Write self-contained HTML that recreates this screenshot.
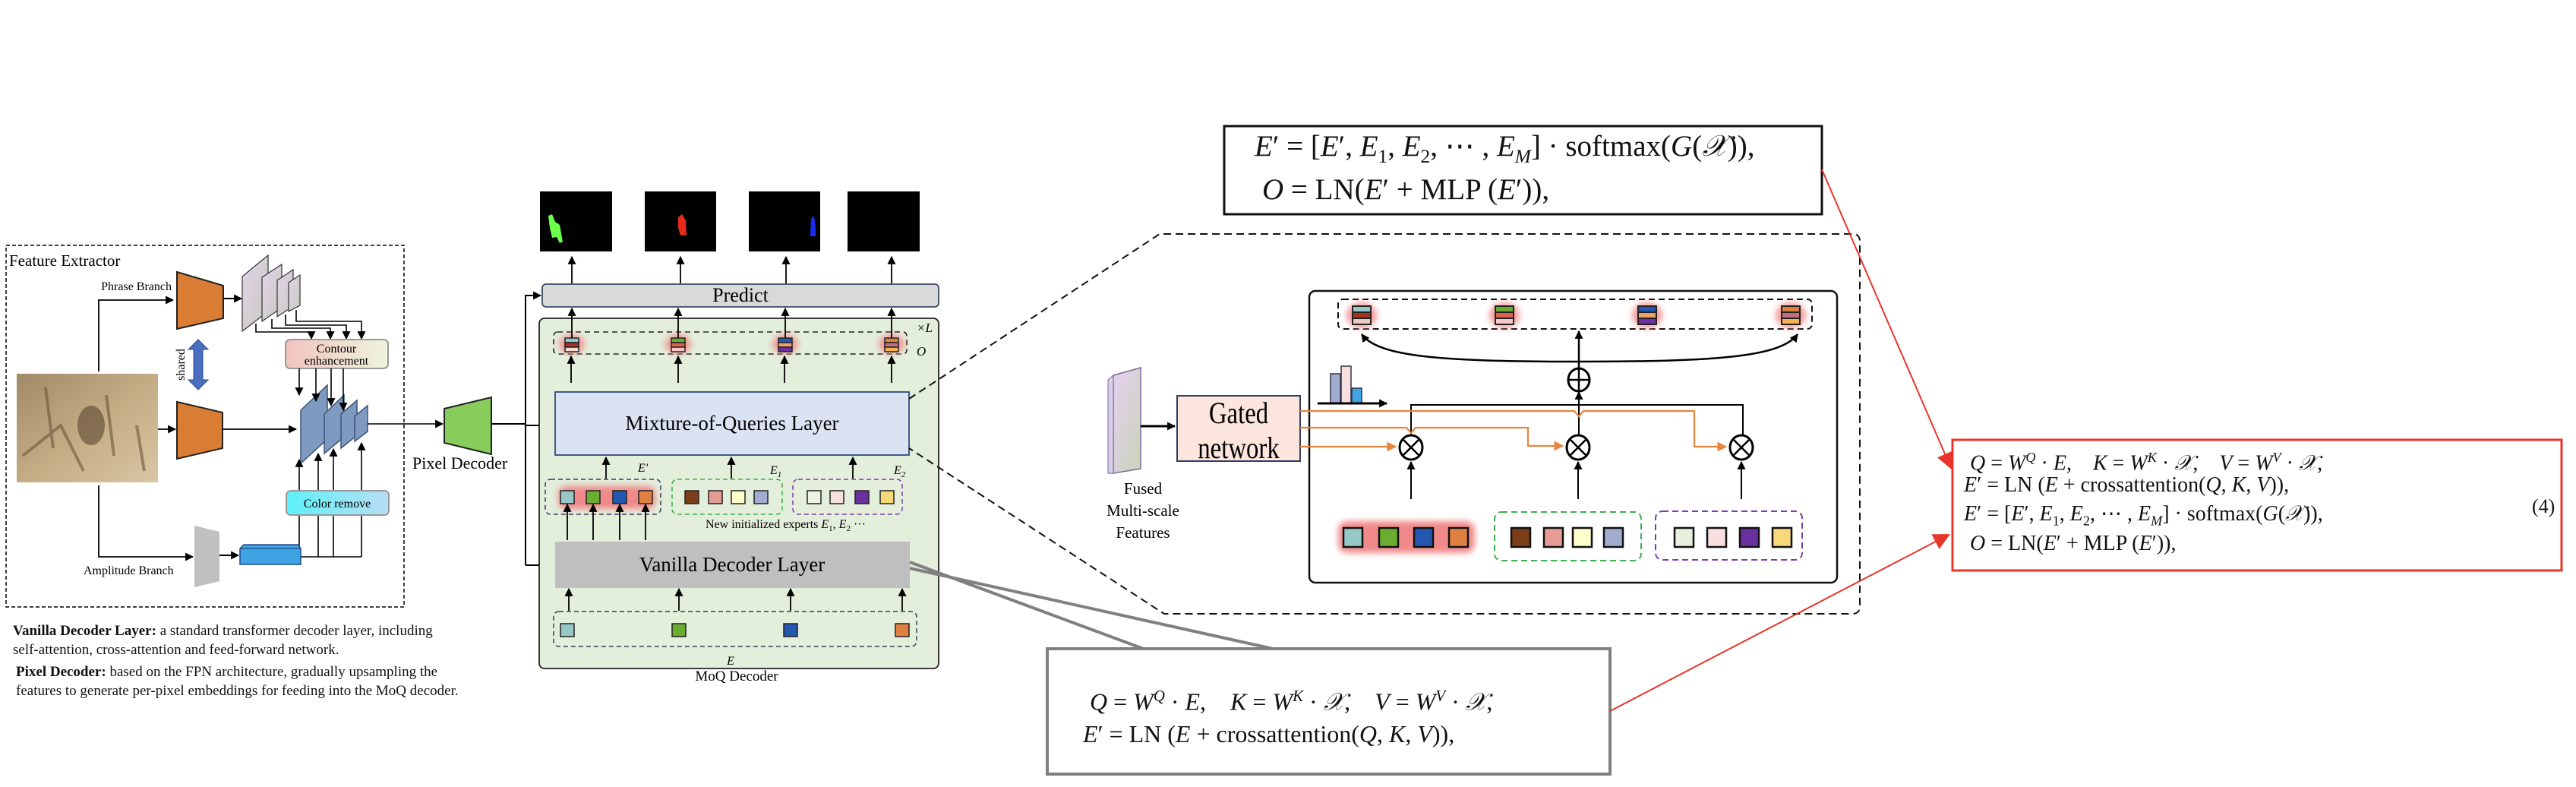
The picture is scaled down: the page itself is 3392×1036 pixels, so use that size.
<!DOCTYPE html>
<html><head><meta charset="utf-8">
<style>
html,body{margin:0;padding:0;background:#fff}
#w{position:relative;width:3392px;height:1036px;overflow:hidden;background:#fff;font-family:"Liberation Serif",serif}
.eq{position:absolute;white-space:nowrap;font-family:"Liberation Serif",serif;color:#111}
.eq i{font-style:italic}
.eq sub,.eq sup{font-size:65%}
.note{position:absolute;font-family:"Liberation Serif",serif;font-size:19px;line-height:25px;color:#111;white-space:nowrap}
</style></head><body><div id="w">
<svg width="3392" height="1036" viewBox="0 0 3392 1036" xmlns="http://www.w3.org/2000/svg" style="position:absolute;left:0;top:0" font-family="Liberation Serif, serif">
<defs>
<marker id="a" viewBox="0 0 10 10" refX="9" refY="5" markerWidth="11" markerHeight="11" markerUnits="userSpaceOnUse" orient="auto"><path d="M0,0L10,5L0,10z" fill="#000"/></marker>
<marker id="ao" viewBox="0 0 10 10" refX="9" refY="5" markerWidth="13" markerHeight="13" markerUnits="userSpaceOnUse" orient="auto"><path d="M0,0L10,5L0,10z" fill="#e8843c"/></marker>
<marker id="ar" viewBox="0 0 10 10" refX="9" refY="5" markerWidth="22" markerHeight="22" markerUnits="userSpaceOnUse" orient="auto"><path d="M0,0L10,5L0,10z" fill="#e8352a"/></marker>
<filter id="bl" x="-50%" y="-50%" width="200%" height="200%"><feGaussianBlur stdDeviation="4"/></filter>
<linearGradient id="gp" x1="0" y1="0" x2="1" y2="1"><stop offset="0" stop-color="#e4d2ee"/><stop offset="1" stop-color="#c6ccbc"/></linearGradient>
<linearGradient id="gc" x1="0" y1="0" x2="1" y2="0"><stop offset="0" stop-color="#f2c4c0"/><stop offset="1" stop-color="#eef4dc"/></linearGradient>
<linearGradient id="gr" x1="0" y1="0" x2="1" y2="0"><stop offset="0" stop-color="#5ef0f8"/><stop offset="1" stop-color="#b8def4"/></linearGradient>
<linearGradient id="gf" x1="0" y1="0" x2="1" y2="1"><stop offset="0" stop-color="#e6d0f0"/><stop offset="1" stop-color="#c8d4b8"/></linearGradient>
<linearGradient id="ph" x1="0" y1="0" x2="1" y2="1"><stop offset="0" stop-color="#a08a68"/><stop offset=".5" stop-color="#c4ab84"/><stop offset="1" stop-color="#d8c6a4"/></linearGradient>
</defs>

<!-- Feature extractor -->
<rect x="8" y="323" width="524" height="476" fill="none" stroke="#000" stroke-width="1.5" stroke-dasharray="5,3"/>
<text x="12" y="350" font-size="21">Feature Extractor</text>
<rect x="22" y="492" width="186" height="143" fill="url(#ph)"/>
<path d="M30,600 L80,560 L110,620 M140,520 L150,600 M180,560 L190,620 M60,510 L70,590" stroke="#6b5638" stroke-width="4" fill="none" opacity=".6"/>
<ellipse cx="120" cy="560" rx="18" ry="26" fill="#5a4630" opacity=".6"/>
<text x="226" y="382" font-size="16" text-anchor="end">Phrase Branch</text>
<path d="M130,489 V395 H228" fill="none" stroke="#000" stroke-width="1.8" marker-end="url(#a)"/>
<polygon points="233,358 294,376 294,419 233,433" fill="#d97d35" stroke="#222" stroke-width="2"/>
<path d="M294,393 H318" stroke="#000" stroke-width="2" marker-end="url(#a)"/>
<polygon points="319,364 353,336 353,410 319,436" fill="url(#gp)" stroke="#333" stroke-width="1.2"/>
<polygon points="345,365 371,348 371,405 345,423" fill="url(#gp)" stroke="#333" stroke-width="1.2"/>
<polygon points="365,369 386,355 386,403 365,417" fill="url(#gp)" stroke="#333" stroke-width="1.2"/>
<polygon points="380,372 395,362 395,402 380,410" fill="url(#gp)" stroke="#333" stroke-width="1.2"/>
<g fill="none" stroke="#000" stroke-width="1.6">
<path d="M337,426 V437 H410 V446" marker-end="url(#a)"/>
<path d="M358,420 V432 H435 V446" marker-end="url(#a)"/>
<path d="M376,414 V428 H456 V446" marker-end="url(#a)"/>
<path d="M390,408 V423 H476 V446" marker-end="url(#a)"/>
</g>
<rect x="376" y="447" width="135" height="38" rx="6" fill="url(#gc)" stroke="#999" stroke-width="2"/>
<text x="443" y="464" font-size="16" text-anchor="middle">Contour</text>
<text x="443" y="480" font-size="16" text-anchor="middle">enhancement</text>
<polygon points="261,447 274,460 267,460 267,500 274,500 261,513 248,500 255,500 255,460 248,460" fill="#4a6fc0" stroke="#2c4a90" stroke-width="1"/>
<text transform="translate(243,480) rotate(-90)" font-size="16" text-anchor="middle">shared</text>
<path d="M208,565 H231" stroke="#000" stroke-width="1.8" marker-end="url(#a)"/>
<polygon points="233,529 293,543 293,590 233,604" fill="#d97d35" stroke="#222" stroke-width="2"/>
<path d="M293,565 H390" stroke="#000" stroke-width="1.8" marker-end="url(#a)"/>
<polygon points="396,540 431,507 431,578 396,610" fill="#7f9ac0" stroke="#3c5478" stroke-width="1.5"/>
<polygon points="427,545 453,520 453,575 427,597" fill="#7f9ac0" stroke="#3c5478" stroke-width="1.5"/>
<polygon points="449,545 470,527 470,573 449,590" fill="#7f9ac0" stroke="#3c5478" stroke-width="1.5"/>
<polygon points="467,548 484,534 484,568 467,581" fill="#7f9ac0" stroke="#3c5478" stroke-width="1.5"/>
<g fill="none" stroke="#000" stroke-width="1.6">
<path d="M394,485 V520" marker-end="url(#a)"/><path d="M416,485 V528" marker-end="url(#a)"/>
<path d="M436,485 V534" marker-end="url(#a)"/><path d="M452,485 V540" marker-end="url(#a)"/>
<path d="M394,646 V605" marker-end="url(#a)"/><path d="M419,646 V597" marker-end="url(#a)"/>
<path d="M439,646 V591" marker-end="url(#a)"/><path d="M476,646 V583" marker-end="url(#a)"/>
<path d="M394,678 V733 M419,678 V733 M439,678 V733 M476,678 V733 M396,733 H476"/>
</g>
<rect x="377" y="646" width="135" height="32" rx="6" fill="url(#gr)" stroke="#999" stroke-width="2"/>
<text x="444" y="668" font-size="16" text-anchor="middle">Color remove</text>
<path d="M130,639 V733 H254" fill="none" stroke="#000" stroke-width="1.8" marker-end="url(#a)"/>
<text x="110" y="756" font-size="16">Amplitude Branch</text>
<polygon points="256,692 289,700 289,765 256,773" fill="#c0c0c0"/>
<path d="M289,731 H314" stroke="#000" stroke-width="2" marker-end="url(#a)"/>
<polygon points="316,722 321,717 392,717 396,722 396,743 316,743" fill="#3ea4e4" stroke="#1f4a88" stroke-width="1.5"/>
<path d="M316,722 H396" stroke="#1f4a88" stroke-width="1.2"/>
<path d="M484,558 H583" stroke="#000" stroke-width="1.5" marker-end="url(#a)"/>
<polygon points="585,538 647,523 647,598 585,583" fill="#88cc5c" stroke="#222" stroke-width="2"/>
<text x="543" y="617" font-size="22">Pixel Decoder</text>
<path d="M647,558 H692" stroke="#000" stroke-width="2"/>
<path d="M692,388 V744" stroke="#000" stroke-width="2" fill="none"/>
<path d="M692,389 H712" stroke="#000" stroke-width="2" marker-end="url(#a)"/>
<path d="M692,560 H729" stroke="#000" stroke-width="2" marker-end="url(#a)"/>
<path d="M692,744 H729" stroke="#000" stroke-width="2" marker-end="url(#a)"/>

<!-- masks -->
<rect x="711" y="252" width="95" height="79" fill="#000"/>
<path d="M722,284 L727,282 L731,292 L737,296 L741,318 L737,320 L733,312 L727,313 L724,300 Z" fill="#6cff4c"/>
<rect x="849" y="252" width="94" height="79" fill="#000"/>
<path d="M893,286 L898,282 L903,290 L904,310 L896,310 L893,300 Z" fill="#e62a1a"/>
<rect x="986" y="252" width="94" height="79" fill="#000"/>
<path d="M1068,288 L1072,284 L1074,300 L1074,311 L1067,311 Z" fill="#1a2cf2"/>
<rect x="1116" y="252" width="95" height="79" fill="#000"/>
<g stroke="#000" stroke-width="1.8" fill="none">
<path d="M753,373 V338" marker-end="url(#a)"/><path d="M896,373 V338" marker-end="url(#a)"/>
<path d="M1035,373 V338" marker-end="url(#a)"/><path d="M1174,373 V338" marker-end="url(#a)"/>
</g>
<rect x="714" y="374" width="522" height="30" rx="5" fill="#d9d9d9" stroke="#3a4a66" stroke-width="1.8"/>
<text x="975" y="397" font-size="26" text-anchor="middle">Predict</text>

<!-- MoQ decoder panel -->
<rect x="710" y="419" width="526" height="461" rx="7" fill="#e3eedb" stroke="#222" stroke-width="1.8"/>
<rect x="729" y="437" width="465" height="29" rx="5" fill="none" stroke="#222" stroke-width="1.6" stroke-dasharray="7,5"/>
<g filter="url(#bl)" fill="#f08a8a" opacity=".85">
<ellipse cx="753" cy="453" rx="17" ry="13"/><ellipse cx="893" cy="453" rx="17" ry="13"/><ellipse cx="1034" cy="453" rx="17" ry="13"/><ellipse cx="1174" cy="453" rx="17" ry="13"/>
</g>
<g stroke="#222" stroke-width="1.5">
<rect x="744" y="445" width="18" height="6" fill="#96c8c8"/><rect x="744" y="451" width="18" height="6" fill="#a83020"/><rect x="744" y="457" width="18" height="6" fill="#f0dcd4"/>
<rect x="884" y="445" width="18" height="6" fill="#6aad30"/><rect x="884" y="451" width="18" height="6" fill="#e06050"/><rect x="884" y="457" width="18" height="6" fill="#f8c8c8"/>
<rect x="1025" y="445" width="18" height="6" fill="#2458b0"/><rect x="1025" y="451" width="18" height="6" fill="#f0a070"/><rect x="1025" y="457" width="18" height="6" fill="#7030a0"/>
<rect x="1165" y="445" width="18" height="6" fill="#e08040"/><rect x="1165" y="451" width="18" height="6" fill="#c07080"/><rect x="1165" y="457" width="18" height="6" fill="#f8b050"/>
</g>
<g stroke="#000" stroke-width="1.8" fill="none">
<path d="M753,445 V406" marker-end="url(#a)"/><path d="M893,445 V406" marker-end="url(#a)"/>
<path d="M1034,445 V406" marker-end="url(#a)"/><path d="M1174,445 V406" marker-end="url(#a)"/>
<path d="M752,504 V469" marker-end="url(#a)"/><path d="M893,504 V469" marker-end="url(#a)"/>
<path d="M1033,504 V469" marker-end="url(#a)"/><path d="M1174,504 V469" marker-end="url(#a)"/>
</g>
<text x="1207" y="437" font-size="17" font-style="italic">×L</text>
<text x="1207" y="468" font-size="17" font-style="italic">O</text>
<rect x="731" y="516" width="466" height="83" fill="#dbe3f3" stroke="#2f4b7c" stroke-width="1.8"/>
<text x="964" y="566" font-size="27" text-anchor="middle">Mixture-of-Queries Layer</text>
<g stroke="#000" stroke-width="1.8" fill="none">
<path d="M798,630 V602" marker-end="url(#a)"/><path d="M963,630 V602" marker-end="url(#a)"/><path d="M1123,630 V602" marker-end="url(#a)"/>
</g>
<text x="840" y="621" font-size="16" font-style="italic">E′</text>
<text x="1014" y="624" font-size="16" font-style="italic">E<tspan font-size="11" dy="4">1</tspan></text>
<text x="1177" y="624" font-size="16" font-style="italic">E<tspan font-size="11" dy="4">2</tspan></text>
<g filter="url(#bl)" fill="#f08a8a"><rect x="735" y="640" width="128" height="30" rx="10"/></g>
<rect x="718" y="631" width="152" height="46" rx="7" fill="none" stroke="#2f3e60" stroke-width="1.5" stroke-dasharray="6,4"/>
<rect x="885" y="631" width="145" height="46" rx="7" fill="none" stroke="#3cb050" stroke-width="1.5" stroke-dasharray="6,4"/>
<rect x="1044" y="631" width="144" height="46" rx="7" fill="none" stroke="#7a3cb0" stroke-width="1.5" stroke-dasharray="6,4"/>
<g stroke="#222" stroke-width="1.5">
<rect x="738" y="646" width="18" height="17" fill="#96c8c8"/><rect x="772" y="646" width="18" height="17" fill="#6aad30"/><rect x="807" y="646" width="18" height="17" fill="#2458b0"/><rect x="841" y="646" width="18" height="17" fill="#e08040"/>
<rect x="902" y="646" width="18" height="17" fill="#7a3e18"/><rect x="933" y="646" width="18" height="17" fill="#e49c94"/><rect x="963" y="646" width="18" height="17" fill="#ffffcc"/><rect x="993" y="646" width="18" height="17" fill="#a2acd0"/>
<rect x="1063" y="646" width="18" height="17" fill="#eef4e4"/><rect x="1093" y="646" width="18" height="17" fill="#f8e0e0"/><rect x="1126" y="646" width="18" height="17" fill="#6a30a0"/><rect x="1159" y="646" width="18" height="17" fill="#f8d878"/>
</g>
<text x="929" y="695" font-size="16">New initialized experts <tspan font-style="italic">E</tspan><tspan font-size="11" dy="4">1</tspan><tspan dy="-4">, </tspan><tspan font-style="italic">E</tspan><tspan font-size="11" dy="4">2</tspan><tspan dy="-4"> ···</tspan></text>
<g stroke="#000" stroke-width="1.8" fill="none">
<path d="M747,711 V664" marker-end="url(#a)"/><path d="M781,711 V664" marker-end="url(#a)"/><path d="M816,711 V664" marker-end="url(#a)"/><path d="M850,711 V664" marker-end="url(#a)"/>
</g>
<rect x="731" y="713" width="467" height="61" fill="#bfbfbf"/>
<text x="964" y="752" font-size="27" text-anchor="middle">Vanilla Decoder Layer</text>
<g stroke="#000" stroke-width="1.8" fill="none">
<path d="M749,804 V775" marker-end="url(#a)"/><path d="M894,804 V775" marker-end="url(#a)"/><path d="M1041,804 V775" marker-end="url(#a)"/><path d="M1188,804 V775" marker-end="url(#a)"/>
</g>
<rect x="729" y="805" width="478" height="46" rx="7" fill="none" stroke="#2f3e60" stroke-width="1.5" stroke-dasharray="6,4"/>
<g stroke="#222" stroke-width="1.5">
<rect x="738" y="821" width="18" height="17" fill="#96c8c8"/><rect x="885" y="821" width="18" height="17" fill="#6aad30"/><rect x="1032" y="821" width="18" height="17" fill="#2458b0"/><rect x="1179" y="821" width="18" height="17" fill="#e08040"/>
</g>
<text x="962" y="875" font-size="16" font-style="italic" text-anchor="middle">E</text>
<text x="970" y="896" font-size="19" text-anchor="middle">MoQ Decoder</text>

<!-- dashed zoom outline -->
<path d="M1197,525 L1527,308 H2440 Q2449,308 2449,318 V798 Q2449,808 2439,808 H1533 L1197,590" fill="none" stroke="#111" stroke-width="2" stroke-dasharray="10,6"/>

<!-- gated section -->
<polygon points="1466,494 1502,484 1502,617 1466,623" fill="url(#gf)" stroke="#7a6a9a" stroke-width="1.5"/>
<polygon points="1459,500 1466,494 1466,623 1459,623" fill="#d8d0e8" stroke="#7a6a9a" stroke-width="1"/>
<text x="1505" y="650" font-size="21" text-anchor="middle">Fused</text>
<text x="1505" y="679" font-size="21" text-anchor="middle">Multi-scale</text>
<text x="1505" y="708" font-size="21" text-anchor="middle">Features</text>
<path d="M1502,561 H1547" stroke="#000" stroke-width="3" marker-end="url(#a)"/>
<rect x="1550" y="521" width="162" height="86" fill="#fbe5dd" stroke="#2f3e60" stroke-width="2"/>
<text transform="translate(1631,557) scale(0.82,1)" font-size="40" text-anchor="middle">Gated</text>
<text transform="translate(1631,603) scale(0.82,1)" font-size="40" text-anchor="middle">network</text>

<rect x="1724" y="383" width="695" height="384" rx="8" fill="none" stroke="#111" stroke-width="2.5"/>
<rect x="1762" y="394" width="624" height="39" rx="6" fill="none" stroke="#111" stroke-width="2" stroke-dasharray="8,5"/>
<g filter="url(#bl)" fill="#f08a8a" opacity=".85">
<ellipse cx="1793" cy="415" rx="20" ry="17"/><ellipse cx="1981" cy="415" rx="20" ry="17"/><ellipse cx="2169" cy="415" rx="20" ry="17"/><ellipse cx="2358" cy="415" rx="20" ry="17"/>
</g>
<g stroke="#222" stroke-width="2">
<rect x="1781" y="403" width="24" height="8" fill="#96c8c8"/><rect x="1781" y="411" width="24" height="8" fill="#a83020"/><rect x="1781" y="419" width="24" height="8" fill="#e8ccc0"/>
<rect x="1969" y="403" width="24" height="8" fill="#6aad30"/><rect x="1969" y="411" width="24" height="8" fill="#e06050"/><rect x="1969" y="419" width="24" height="8" fill="#f8c8c8"/>
<rect x="2157" y="403" width="24" height="8" fill="#2458b0"/><rect x="2157" y="411" width="24" height="8" fill="#f0a070"/><rect x="2157" y="419" width="24" height="8" fill="#7030a0"/>
<rect x="2346" y="403" width="24" height="8" fill="#e08040"/><rect x="2346" y="411" width="24" height="8" fill="#c07080"/><rect x="2346" y="419" width="24" height="8" fill="#f8b050"/>
</g>
<g fill="none" stroke="#000" stroke-width="2.5">
<path d="M2079,476 C1900,476 1815,470 1793,440" marker-end="url(#a)"/>
<path d="M2079,476 C2260,476 2345,470 2367,440" marker-end="url(#a)"/>
<path d="M2079,485 V436" marker-end="url(#a)"/>
</g>
<ellipse cx="2079" cy="500" rx="14" ry="15" fill="#fff" stroke="#000" stroke-width="3"/>
<path d="M2065,500 H2093 M2079,485 V515" stroke="#000" stroke-width="2.5"/>
<rect x="1752" y="492" width="13" height="39" fill="#a2acd0" stroke="#334" stroke-width="1.5"/>
<rect x="1766" y="482" width="13" height="49" fill="#f8e0e0" stroke="#334" stroke-width="1.5"/>
<rect x="1780" y="511" width="13" height="20" fill="#3ea4e4" stroke="#334" stroke-width="1.5"/>
<path d="M1735,531 H1826" stroke="#000" stroke-width="3" marker-end="url(#a)"/>
<g fill="none" stroke="#000" stroke-width="2">
<path d="M1858,573 V533 H2295 V573"/>
<path d="M2079,573 V516" marker-end="url(#a)"/>
<path d="M1858,657 V608" marker-end="url(#a)"/><path d="M2078,657 V608" marker-end="url(#a)"/><path d="M2293,657 V608" marker-end="url(#a)"/>
</g>
<g fill="none" stroke="#e8843c" stroke-width="2.2">
<path d="M1712,541 H2073 L2079,548 L2085,541 H2231 V588 H2273" marker-end="url(#ao)"/>
<path d="M1712,563 H1852 L1858,570 L1864,563 H2012 V587 H2058" marker-end="url(#ao)"/>
<path d="M1712,588 H1838" marker-end="url(#ao)"/>
</g>
<g fill="#fff" stroke="#000" stroke-width="3">
<ellipse cx="1858" cy="589" rx="15" ry="16"/><ellipse cx="2078" cy="589" rx="15" ry="16"/><ellipse cx="2293" cy="589" rx="15" ry="16"/>
</g>
<g stroke="#000" stroke-width="2.5">
<path d="M1847,578 L1869,600 M1869,578 L1847,600"/><path d="M2067,578 L2089,600 M2089,578 L2067,600"/><path d="M2282,578 L2304,600 M2304,578 L2282,600"/>
</g>
<g filter="url(#bl)" fill="#f08a8a"><rect x="1762" y="686" width="180" height="42" rx="12"/></g>
<rect x="1968" y="674" width="193" height="64" rx="9" fill="none" stroke="#3cb050" stroke-width="2" stroke-dasharray="8,5"/>
<rect x="2180" y="673" width="193" height="64" rx="9" fill="none" stroke="#7a3cb0" stroke-width="2" stroke-dasharray="8,5"/>
<g stroke="#111" stroke-width="2.5">
<rect x="1769" y="695" width="25" height="25" fill="#96c8c8"/><rect x="1816" y="695" width="25" height="25" fill="#6aad30"/><rect x="1862" y="695" width="25" height="25" fill="#2458b0"/><rect x="1908" y="695" width="25" height="25" fill="#e08040"/>
<rect x="1990" y="695" width="25" height="25" fill="#7a3e18"/><rect x="2033" y="695" width="25" height="25" fill="#e49c94"/><rect x="2071" y="695" width="25" height="25" fill="#ffffcc"/><rect x="2112" y="695" width="25" height="25" fill="#a2acd0"/>
<rect x="2205" y="695" width="25" height="25" fill="#e6f0dc"/><rect x="2248" y="695" width="25" height="25" fill="#f8e0e0"/><rect x="2291" y="695" width="25" height="25" fill="#6a30a0"/><rect x="2334" y="695" width="25" height="25" fill="#f8d878"/>
</g>

<!-- equation boxes -->
<rect x="1612" y="166" width="787" height="116" fill="#fff" stroke="#111" stroke-width="3"/>
<path d="M1198,740 L1511,856 M1198,748 L1685,856" stroke="#808080" stroke-width="4"/>
<rect x="1379" y="854" width="741" height="165" fill="#fff" stroke="#808080" stroke-width="4"/>
<rect x="2571" y="579" width="802" height="172" fill="#fff" stroke="#e8352a" stroke-width="3"/>
<path d="M2399,223 L2569,616" stroke="#e8352a" stroke-width="2" marker-end="url(#ar)"/>
<path d="M2120,936 L2566,704" stroke="#e8352a" stroke-width="2" marker-end="url(#ar)"/>
</svg>

<div class="eq" style="left:1652px;top:170px;font-size:39px;line-height:46px"><i>E</i>′ = [<i>E</i>′, <i>E</i><sub>1</sub>, <i>E</i><sub>2</sub>, ⋯ , <i>E</i><sub><i>M</i></sub>] · softmax(<i>G</i>(<i>𝒳</i>)),</div>
<div class="eq" style="left:1662px;top:227px;font-size:39px;line-height:46px"><i>O</i> = LN(<i>E</i>′ + MLP (<i>E</i>′)),</div>

<div class="eq" style="left:1435px;top:897px;font-size:32px;line-height:40px"><i>Q</i> = <i>W</i><sup><i>Q</i></sup> · <i>E</i>,&nbsp;&nbsp;&nbsp; <i>K</i> = <i>W</i><sup><i>K</i></sup> · <i>𝒳</i>,&nbsp;&nbsp;&nbsp; <i>V</i> = <i>W</i><sup><i>V</i></sup> · <i>𝒳</i>,</div>
<div class="eq" style="left:1426px;top:946px;font-size:32px;line-height:40px"><i>E</i>′ = LN (<i>E</i> + crossattention(<i>Q</i>, <i>K</i>, <i>V</i>)),</div>

<div class="eq" style="left:2594px;top:586px;font-size:28px;line-height:32px"><i>Q</i> = <i>W</i><sup><i>Q</i></sup> · <i>E</i>,&nbsp;&nbsp;&nbsp; <i>K</i> = <i>W</i><sup><i>K</i></sup> · <i>𝒳</i>,&nbsp;&nbsp;&nbsp; <i>V</i> = <i>W</i><sup><i>V</i></sup> · <i>𝒳</i>,</div>
<div class="eq" style="left:2586px;top:623px;font-size:28px;line-height:32px"><i>E</i>′ = LN (<i>E</i> + crossattention(<i>Q</i>, <i>K</i>, <i>V</i>)),</div>
<div class="eq" style="left:2586px;top:661px;font-size:28px;line-height:32px"><i>E</i>′ = [<i>E</i>′, <i>E</i><sub>1</sub>, <i>E</i><sub>2</sub>, ⋯ , <i>E</i><sub><i>M</i></sub>] · softmax(<i>G</i>(<i>𝒳</i>)),</div>
<div class="eq" style="left:2594px;top:700px;font-size:28px;line-height:32px"><i>O</i> = LN(<i>E</i>′ + MLP (<i>E</i>′)),</div>
<div class="eq" style="left:3334px;top:651px;font-size:26px;line-height:32px">(4)</div>

<div class="note" style="left:17px;top:818px"><b>Vanilla Decoder Layer:</b> a standard transformer decoder layer, including<br>self-attention, cross-attention and feed-forward network.</div>
<div class="note" style="left:21px;top:872px"><b>Pixel Decoder:</b> based on the FPN architecture, gradually upsampling the<br>features to generate per-pixel embeddings for feeding into the MoQ decoder.</div>
</div></body></html>
